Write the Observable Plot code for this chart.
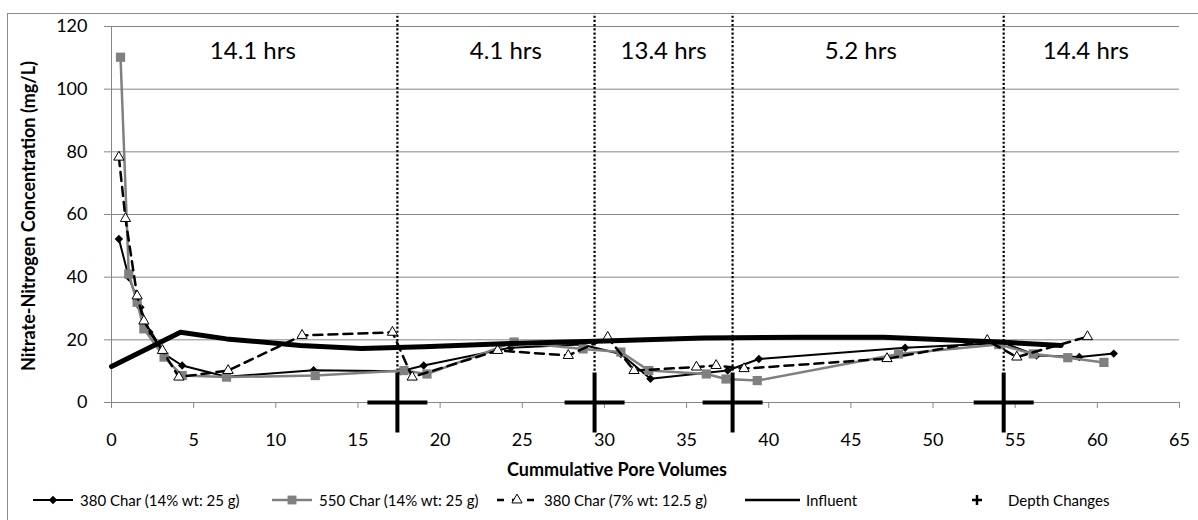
<!DOCTYPE html>
<html>
<head>
<meta charset="utf-8">
<script src="https://cdn.jsdelivr.net/npm/d3@7"></script>
<script src="https://cdn.jsdelivr.net/npm/@observablehq/plot@0.6"></script>
<style>
  html, body { margin: 0; padding: 0; background: #fff; overflow: hidden; }
  body { width: 1198px; height: 520px; position: relative; font-family: Lato, "Open Sans", sans-serif; }
  #frame { position: absolute; left: 7px; top: 13px; width: 1200px; height: 520px; border: 1px solid #8c8c8c; box-sizing: border-box; }
  #chart { position: absolute; left: 0; top: 0; }
  #legend { position: absolute; left: 0; top: 489px; width: 1198px; height: 24px; font-size: 15px; color: #000; }
  .item { position: absolute; top: 0; height: 22px; display: flex; align-items: center; white-space: nowrap; }
  .item svg { display: block; margin-right: 3px; }
</style>
</head>
<body>
<div id="frame"></div>
<div id="chart"></div>
<div id="legend"></div>
<script>
// ---- data ----
const char380_14_x = [0.45, 1.05, 1.76, 2.3, 3.2, 4.3, 7.0, 12.3, 17.6, 19.0, 24.3, 28.6, 31.0, 32.8, 37.5, 39.4, 48.3, 54.3, 56.3, 58.9, 61.0];
const char380_14_y = [52.2, 40, 30.4, 22.5, 15.5, 11.8, 8.2, 10.3, 10, 11.8, 17.5, 18.5, 15.5, 7.6, 10.2, 13.9, 17.5, 19, 15, 14.5, 15.6];

const char550_14_x = [0.55, 1.05, 1.56, 1.97, 3.2, 4.3, 7.0, 12.4, 17.8, 19.2, 24.5, 28.7, 31.0, 32.7, 36.2, 37.4, 39.3, 47.9, 54.0, 56.1, 58.2, 60.4];
const char550_14_y = [110.2, 41, 32, 23.5, 14.5, 8.6, 8.1, 8.6, 10.2, 9.1, 19.3, 17.1, 16.1, 10.2, 9.1, 7.5, 7.0, 15.5, 18.5, 15.5, 14.3, 12.8];

const char380_7_x = [0.45, 0.85, 1.56, 1.97, 3.1, 4.1, 7.1, 11.6, 17.1, 18.3, 23.5, 27.8, 30.2, 31.8, 35.6, 36.8, 38.5, 47.2, 53.3, 55.1, 59.4];
const char380_7_y = [78.3, 58.7, 34, 26, 16.6, 8.1, 10.2, 21.4, 22.4, 8.1, 16.6, 15, 20.8, 10.2, 11.3, 11.8, 10.8, 14, 19.8, 14.5, 21];

const influent_x = [0, 4.2, 7.0, 11.5, 15.2, 19, 24.3, 30, 36, 42, 47, 54, 57.8];
const influent_y = [11.5, 22.4, 20.3, 18.2, 17.2, 17.8, 18.8, 19.6, 20.6, 20.8, 20.8, 19.3, 18.2];

const depthChange_x = [17.4, 29.4, 37.8, 54.3];
const depthChange_y = [0, 0, 0, 0];
const dividerTop = 124;
const dividerBottom = 10;

const period_x = [8.6, 24.0, 33.6, 45.6, 59.3];
const period_labels = ["14.1 hrs", "4.1 hrs", "13.4 hrs", "5.2 hrs", "14.4 hrs"];
const period_y = 112;

const xTicks = [0, 5, 10, 15, 20, 25, 30, 35, 40, 45, 50, 55, 60, 65];
const yTicks = [0, 20, 40, 60, 80, 100, 120];

const seriesNames = ["380 Char (14% wt: 25 g)", "550 Char (14% wt: 25 g)", "380 Char (7% wt: 12.5 g)", "Influent", "Depth Changes"];
const xTitle = "Cummulative Pore Volumes";
const yTitle = "Nitrate-Nitrogen Concentration (mg/L)";

// ---- build rows ----
const zip = (xs, ys) => xs.map((x, i) => ({x, y: ys[i]}));
const s380_14 = zip(char380_14_x, char380_14_y);
const s550_14 = zip(char550_14_x, char550_14_y);
const s380_7 = zip(char380_7_x, char380_7_y);
const sInf = zip(influent_x, influent_y);
const sDepth = zip(depthChange_x, depthChange_y);
const periods = period_x.map((x, i) => ({x, y: period_y, text: period_labels[i]}));

const crossSymbol = {
  draw(ctx, size) {
    const r = Math.sqrt(size / Math.PI);
    ctx.moveTo(-r, 0); ctx.lineTo(r, 0);
    ctx.moveTo(0, -r); ctx.lineTo(0, r);
  }
};

const GRID = "#868686";
const GRAY = "#808080";

const plot = Plot.plot({
  width: 1198,
  height: 480,
  marginLeft: 111,
  marginRight: 19,
  marginTop: 26,
  marginBottom: 78,
  style: { fontFamily: "Lato, sans-serif", fontSize: "18px", color: "#000", background: "transparent", overflow: "visible" },
  x: { domain: [0, 65] },
  y: { domain: [0, 120] },
  marks: [
    Plot.gridY(yTicks.filter(d => d > 0), { stroke: GRID, strokeOpacity: 1, strokeWidth: 1 }),
    Plot.ruleY([0], { stroke: GRID, strokeWidth: 1 }),
    Plot.ruleX([0], { stroke: GRID, strokeWidth: 1 }),
    Plot.axisX({ ticks: xTicks, tickSize: 6, tickPadding: 25, stroke: GRID, fill: "#000", label: null, fontSize: 18, tickFormat: d => String(d) }),
    Plot.axisY({ ticks: yTicks, tickSize: 7, tickPadding: 17, stroke: GRID, fill: "#000", label: null, fontSize: 18, tickFormat: d => String(d) }),
    // dotted dividers
    Plot.ruleX(depthChange_x, { y1: dividerBottom, y2: dividerTop, stroke: "#000", strokeWidth: 2.2, strokeDasharray: "2.2,2" }),
    // 380 Char 14%
    Plot.line(s380_14, { x: "x", y: "y", stroke: "#000", strokeWidth: 2 }),
    Plot.dot(s380_14, { x: "x", y: "y", symbol: "diamond2", r: 3.8, fill: "#000", stroke: "none" }),
    // 550 Char 14%
    Plot.line(s550_14, { x: "x", y: "y", stroke: GRAY, strokeWidth: 2.5 }),
    Plot.dot(s550_14, { x: "x", y: "y", symbol: "square", r: 5.2, fill: GRAY, stroke: "none" }),
    // 380 Char 7%
    Plot.line(s380_7, { x: "x", y: "y", stroke: "#000", strokeWidth: 2.5, strokeDasharray: "9,6" }),
    Plot.dot(s380_7, { x: "x", y: "y", symbol: "triangle", r: 3.8, fill: "#fff", stroke: "#000", strokeWidth: 1 }),
    // Influent
    Plot.line(sInf, { x: "x", y: "y", stroke: "#000", strokeWidth: 5 }),
    // Depth changes
    Plot.dot(sDepth, { x: "x", y: "y", symbol: crossSymbol, r: 30, fill: "none", stroke: "#000", strokeWidth: 4 }),
    // period labels
    Plot.text(periods, { x: "x", y: "y", text: "text", fontSize: 24, fill: "#000" })
  ]
});
document.getElementById("chart").appendChild(plot);

// axis titles
const svg = d3.select(plot);
svg.append("text")
  .attr("transform", "translate(28,216) rotate(-90)")
  .attr("text-anchor", "middle")
  .attr("dominant-baseline", "central")
  .style("font-family", "Lato, sans-serif")
  .style("font-weight", "bold")
  .style("font-size", "18px")
  .attr("fill", "#000")
  .text(yTitle);
svg.append("text")
  .attr("x", 617).attr("y", 469)
  .attr("text-anchor", "middle")
  .attr("dominant-baseline", "central")
  .style("font-family", "Lato, sans-serif")
  .style("font-weight", "bold")
  .style("font-size", "18px")
  .attr("fill", "#000")
  .text(xTitle);

// legend
const legend = d3.select("#legend");
const lefts = [33, 272, 497, 745, 965];
function swatch(i, sel) {
  const s = sel.append("svg").attr("width", i === 4 ? 26 : 44).attr("height", 22);
  if (i === 0) {
    s.append("line").attr("x1", 0).attr("x2", 40).attr("y1", 11).attr("y2", 11).attr("stroke", "#000").attr("stroke-width", 2);
    s.append("path").attr("d", d3.symbol(d3.symbolDiamond2, Math.PI * 3.8 * 3.8)()).attr("transform", "translate(20,11)").attr("fill", "#000");
  } else if (i === 1) {
    s.append("line").attr("x1", 0).attr("x2", 40).attr("y1", 11).attr("y2", 11).attr("stroke", GRAY).attr("stroke-width", 2.5);
    s.append("path").attr("d", d3.symbol(d3.symbolSquare, Math.PI * 5 * 5)()).attr("transform", "translate(20,11)").attr("fill", GRAY);
  } else if (i === 2) {
    s.append("line").attr("x1", 0).attr("x2", 40).attr("y1", 11).attr("y2", 11).attr("stroke", "#000").attr("stroke-width", 2.5).attr("stroke-dasharray", "7,8");
    s.append("path").attr("d", d3.symbol(d3.symbolTriangle, Math.PI * 3.8 * 3.8)()).attr("transform", "translate(20,11)").attr("fill", "#fff").attr("stroke", "#000");
  } else if (i === 3) {
    s.append("line").attr("x1", 0).attr("x2", 55).attr("y1", 11).attr("y2", 11).attr("stroke", "#000").attr("stroke-width", 2.5);
    s.attr("width", 58);
  } else {
    s.append("path").attr("d", "M7,11H17M12,6V16").attr("stroke", "#000").attr("stroke-width", 2.5);
  }
}
seriesNames.forEach((name, i) => {
  const it = legend.append("div").attr("class", "item").style("left", lefts[i] + "px");
  swatch(i, it);
  it.append("span").style("margin-left", i === 4 ? "14px" : "0px").text(name);
});
</script>
</body>
</html>
